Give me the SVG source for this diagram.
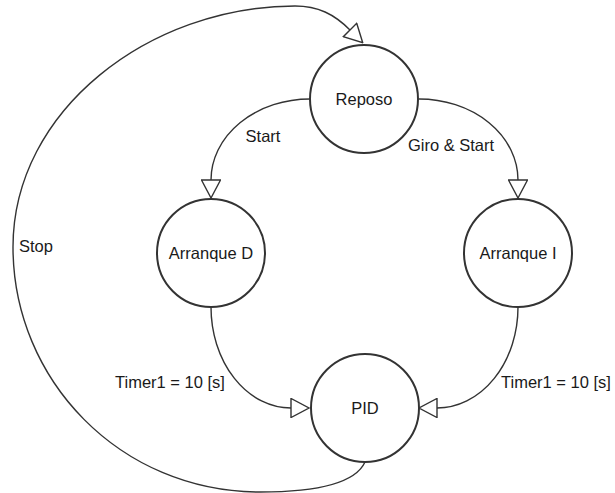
<svg xmlns="http://www.w3.org/2000/svg" width="615" height="493" viewBox="0 0 615 493">
  <style>
    .state { fill: #ffffff; stroke: #333333; stroke-width: 2; }
    .edge { fill: none; stroke: #333333; stroke-width: 1.4; marker-end: url(#open-tri); }
    text { font-family: "Liberation Sans", Arial, sans-serif; font-size: 16.5px; fill: #1a1a1a; }
    .mid { text-anchor: middle; }
  </style>
  <defs>
    <marker id="open-tri" viewBox="0 0 20 20" refX="1" refY="10" markerWidth="20" markerHeight="20" markerUnits="userSpaceOnUse" orient="auto">
      <path d="M1,0.5 L19,10 L1,19.5 Z" fill="#ffffff" stroke="#333333" stroke-width="1.4"/>
    </marker>
  </defs>

  <g id="connectors">
    <!-- Reposo -> Arranque D -->
    <path class="edge" d="M310,99 A99,81 0 0 0 211,180"/>
    <!-- Reposo -> Arranque I -->
    <path class="edge" d="M419,99 A99,81 0 0 1 518,180"/>
    <!-- Arranque D -> PID -->
    <path class="edge" d="M211,307 A80,101 0 0 0 291,408"/>
    <!-- Arranque I -> PID -->
    <path class="edge" d="M518,307 A81,101 0 0 1 437,408"/>
    <!-- PID -> Reposo (Stop) -->
    <path class="edge" d="M365,462 C355,484 315,492 260,492 C120,492 13,380 13,247 C13,110 150,6 295,6 C318,6 334,14 350,30"/>
  </g>

  <g id="reposo">
    <circle class="state" cx="364" cy="99" r="54"/>
    <text class="mid" x="364" y="105">Reposo</text>
  </g>
  <g id="arranque-d">
    <circle class="state" cx="211" cy="253" r="54"/>
    <text class="mid" x="211" y="259">Arranque D</text>
  </g>
  <g id="arranque-i">
    <circle class="state" cx="518" cy="253" r="54"/>
    <text class="mid" x="518" y="259">Arranque I</text>
  </g>
  <g id="pid">
    <circle class="state" cx="365" cy="408" r="54"/>
    <text class="mid" x="365" y="414">PID</text>
  </g>

  <g id="labels">
    <text class="mid" x="263" y="142">Start</text>
    <text class="mid" x="451" y="151">Giro &amp; Start</text>
    <text class="mid" x="170" y="388">Timer1 = 10 [s]</text>
    <text class="mid" x="556" y="388">Timer1 = 10 [s]</text>
    <text x="19" y="252">Stop</text>
  </g>
</svg>
